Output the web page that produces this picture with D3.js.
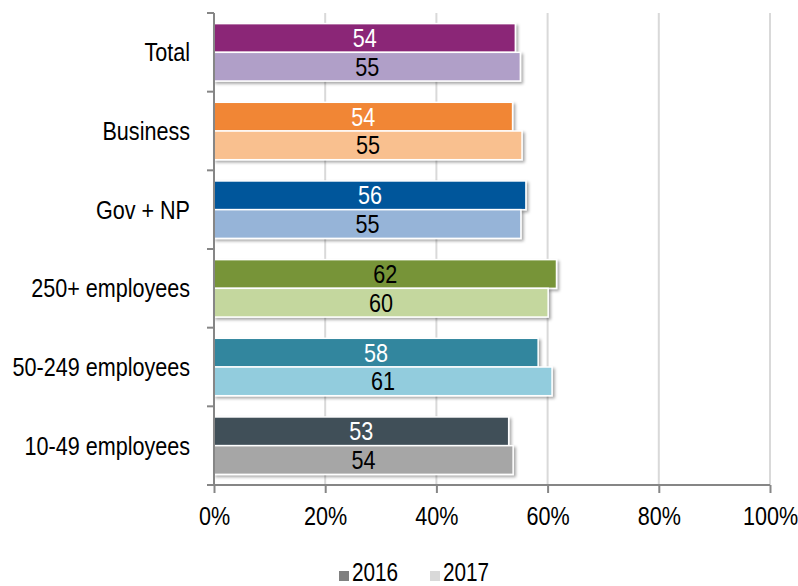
<!DOCTYPE html>
<html>
<head>
<meta charset="utf-8">
<script src="https://cdn.jsdelivr.net/npm/d3@7"></script>
<style>
  body { margin: 0; background: #fff; }
  svg text { font-family: "Liberation Sans", Arial, sans-serif; }
</style>
</head>
<body>
<div id="chart"></div>
<script>
// categories top to bottom
const categories = ["Total", "Business", "Gov + NP", "250+ employees", "50-249 employees", "10-49 employees"];
const years = ["2016", "2017"];
// share in percent
const values2016 = [54.2, 53.7, 56.1, 61.6, 58.3, 53.0];
const values2017 = [55.1, 55.4, 55.2, 60.1, 60.8, 53.8];
const colors2016 = ["#8b2577", "#f18634", "#00569b", "#779439", "#30869e", "#414f59"];
const colors2017 = ["#b09fc8", "#f9c08f", "#96b4d8", "#c4d79e", "#92ccdd", "#a6a6a6"];
const labelColors2016 = ["#fff", "#fff", "#fff", "#000", "#fff", "#fff"];
const xTicks = [0, 20, 40, 60, 80, 100];
const legendColors = ["#808080", "#d9d9d9"];

const width = 798, height = 586;
const squeeze = 0.83; // the original type is a narrow face
const svg = d3.select("#chart").append("svg")
  .attr("width", width).attr("height", height);

// drop shadow under the bars
const defs = svg.append("defs");
defs.append("filter").attr("id", "shadow")
  .attr("x", "-5%").attr("y", "-30%").attr("width", "110%").attr("height", "170%")
  .append("feDropShadow")
  .attr("dx", 2).attr("dy", 2).attr("stdDeviation", 1.5)
  .attr("flood-color", "#000").attr("flood-opacity", 0.35);

const x = d3.scaleLinear().domain([0, 100]).range([214, 770]);
const y0 = d3.scaleBand().domain(categories).range([13, 485]).padding(0);
const y1 = d3.scaleBand().domain(years).range([0, y0.bandwidth()])
  .paddingInner(0).paddingOuter(0.37);

// gridlines
svg.append("g").selectAll("line")
  .data(xTicks.filter(d => d > 0))
  .join("line")
  .attr("x1", d => x(d)).attr("x2", d => x(d))
  .attr("y1", 13).attr("y2", 485)
  .attr("stroke", "#d9d9d9").attr("stroke-width", 2);

// bars
const rows = categories.map((c, i) => ({
  cat: c,
  bars: [
    { year: "2016", v: values2016[i], fill: colors2016[i], tc: labelColors2016[i] },
    { year: "2017", v: values2017[i], fill: colors2017[i], tc: "#000" }
  ]
}));

const groups = svg.append("g").selectAll("g")
  .data(rows).join("g")
  .attr("transform", d => `translate(0,${y0(d.cat)})`);

groups.selectAll("rect")
  .data(d => d.bars).join("rect")
  .attr("x", x(0))
  .attr("y", d => y1(d.year))
  .attr("width", d => x(d.v) - x(0))
  .attr("height", y1.bandwidth())
  .attr("fill", d => d.fill)
  .attr("stroke", "#fff").attr("stroke-width", 1.5)
  .attr("filter", "url(#shadow)");

groups.selectAll("text")
  .data(d => d.bars).join("text")
  .attr("x", d => (x(0) + x(d.v)) / 2)
  .attr("y", d => y1(d.year) + y1.bandwidth() / 2)
  .attr("dy", "0.35em")
  .attr("text-anchor", "middle")
  .attr("font-size", 26)
  .attr("fill", d => d.tc)
  .text(d => Math.round(d.v));

// y axis with ticks on band edges
const axisColor = "#868686";
svg.append("line")
  .attr("x1", x(0)).attr("x2", x(0))
  .attr("y1", 13).attr("y2", 485)
  .attr("stroke", axisColor).attr("stroke-width", 2);
const edges = categories.map(c => y0(c)).concat([y0.range()[1]]);
svg.append("g").selectAll("line")
  .data(edges).join("line")
  .attr("x1", x(0) - 7).attr("x2", x(0))
  .attr("y1", d => d).attr("y2", d => d)
  .attr("stroke", axisColor).attr("stroke-width", 2);

svg.append("g").selectAll("text")
  .data(categories).join("text")
  .attr("x", 190)
  .attr("y", d => y0(d) + y0.bandwidth() / 2)
  .attr("dy", "0.35em")
  .attr("text-anchor", "end")
  .attr("font-size", 26)
  .attr("fill", "#000")
  .text(d => d);

// x axis
const xAxis = svg.append("g")
  .attr("transform", "translate(0,485)")
  .call(d3.axisBottom(x).tickValues(xTicks).tickFormat(d => d + "%").tickSize(8).tickPadding(14).tickSizeOuter(0));
xAxis.select(".domain").remove();
xAxis.append("line")
  .attr("x1", x(0) - 7).attr("x2", x(100))
  .attr("stroke", axisColor).attr("stroke-width", 2);
xAxis.selectAll(".tick line").attr("stroke", axisColor).attr("stroke-width", 2);
xAxis.selectAll(".tick text")
  .attr("font-size", 26).attr("fill", "#000")
  .attr("font-family", null);

// legend
const legend = svg.append("g");
const legendX = [339, 430];
years.forEach((yr, i) => {
  legend.append("rect")
    .attr("x", legendX[i]).attr("y", 571)
    .attr("width", 10).attr("height", 10)
    .attr("fill", legendColors[i]);
  legend.append("text")
    .attr("x", legendX[i] + 13).attr("y", 581)
    .attr("font-size", 25).attr("fill", "#000")
    .text(yr);
});

// squeeze every label horizontally around its own anchor
svg.selectAll("text").each(function() {
  const t = d3.select(this);
  const xv = +t.attr("x") || 0;
  t.attr("x", xv / squeeze).attr("transform", `scale(${squeeze},1)`);
});
</script>
</body>
</html>
